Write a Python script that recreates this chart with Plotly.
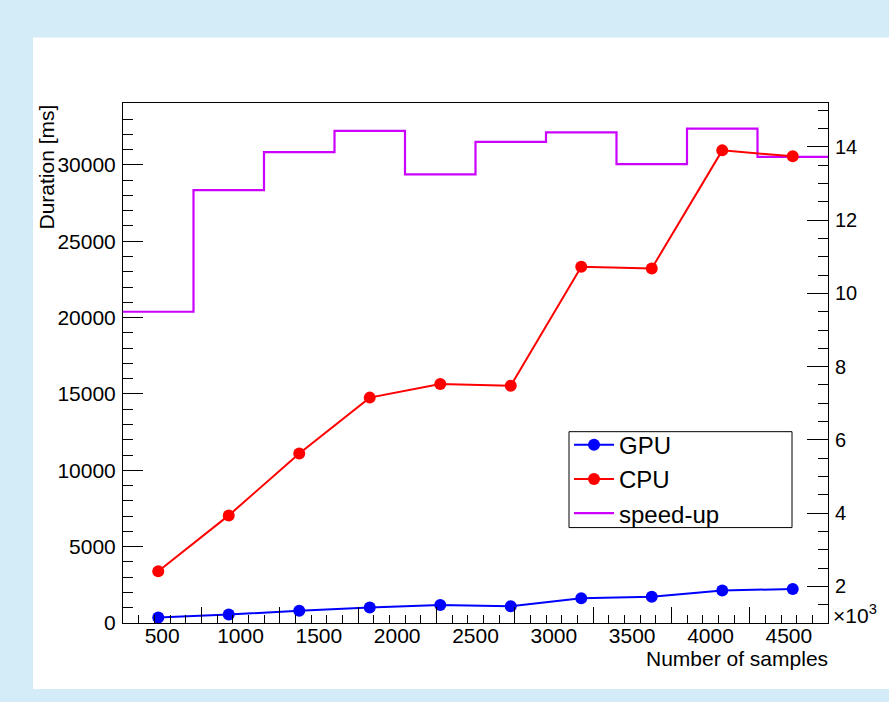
import plotly.graph_objects as go

# ---- data ----
samples = [475, 925, 1375, 1825, 2275, 2725, 3175, 3625, 4075, 4525]
gpu_ms = [356, 550, 801, 1022, 1181, 1099, 1619, 1716, 2134, 2225]
cpu_ms = [3386, 7046, 11098, 14758, 15654, 15542, 23320, 23216, 30948, 30556]
bin_edges = [250, 700, 1150, 1600, 2050, 2500, 2950, 3400, 3850, 4300, 4750]
speedup = [9.50, 12.82, 13.86, 14.44, 13.25, 14.14, 14.40, 13.53, 14.50, 13.73]
x_tick_labels = [500, 1000, 1500, 2000, 2500, 3000, 3500, 4000, 4500]

FONT = "Liberation Sans, Arial, Helvetica, sans-serif"
BLUE_BG = "rgb(212,236,248)"

fig = go.Figure()

fig.add_trace(go.Scatter(
    x=samples, y=gpu_ms, name="GPU", mode="lines+markers",
    line=dict(color="#0000FF", width=2), marker=dict(color="#0000FF", size=12),
    xaxis="x2", yaxis="y2"))
fig.add_trace(go.Scatter(
    x=samples, y=cpu_ms, name="CPU", mode="lines+markers",
    line=dict(color="#FF0000", width=2), marker=dict(color="#FF0000", size=12),
    xaxis="x2", yaxis="y2"))
fig.add_trace(go.Scatter(
    x=bin_edges, y=speedup + [speedup[-1]], name="speed-up", mode="lines",
    line=dict(color="#CC00FF", width=2.2, shape="hv"),
    xaxis="x", yaxis="y"))

L, R, T, B = 123, 61, 103, 78.5
W, H = 889, 702
pw = W - L - R
ph = H - T - B

def px(xp):
    return (xp - L) / pw

def py(yp):
    return (H - B - yp) / ph

xr = [250, 4750]

fig.update_layout(
    width=W, height=H,
    margin=dict(l=L, r=R, t=T, b=B, pad=0),
    paper_bgcolor=BLUE_BG, plot_bgcolor="white",
    font=dict(family=FONT, color="black", size=21),
    showlegend=True,
    legend=dict(
        x=px(569), y=py(423), xanchor="left", yanchor="top",
        bgcolor="rgba(0,0,0,0)", borderwidth=0,
        font=dict(size=24, family=FONT),
        tracegroupgap=0, itemwidth=40),
    xaxis=dict(
        range=xr, tickmode="array", tickvals=x_tick_labels,
        ticktext=[str(v) for v in x_tick_labels],
        ticks="", showgrid=False, zeroline=False,
        showline=True, mirror=True, linecolor="black", linewidth=1,
        tickfont=dict(size=21), ticklabelstandoff=-6),
    xaxis2=dict(
        range=xr, overlaying="x", side="bottom", anchor="y2",
        tickmode="linear", tick0=750, dtick=500,
        ticks="inside", ticklen=16, tickwidth=1, tickcolor="black",
        minor=dict(tick0=250, dtick=100, ticks="inside", ticklen=8,
                   tickwidth=1, tickcolor="black"),
        showticklabels=False, showgrid=False, zeroline=False, showline=False),
    yaxis=dict(
        range=[1.0, 15.2], side="right", anchor="x",
        tickmode="linear", tick0=0, dtick=2,
        ticks="inside", ticklen=21, tickwidth=1, tickcolor="black",
        minor=dict(dtick=0.5, ticks="inside", ticklen=10, tickwidth=1,
                   tickcolor="black"),
        showgrid=False, zeroline=False, showline=True, linecolor="black",
        linewidth=1, tickfont=dict(size=20), ticklabelstandoff=2),
    yaxis2=dict(
        range=[0, 34050], overlaying="y", side="left", anchor="x2",
        tickmode="linear", tick0=0, dtick=5000, tickformat="d",
        ticks="inside", ticklen=20, tickwidth=1, tickcolor="black",
        minor=dict(dtick=1000, ticks="inside", ticklen=10, tickwidth=1,
                   tickcolor="black"),
        showgrid=False, zeroline=False, showline=True, linecolor="black",
        linewidth=1, tickfont=dict(size=21), ticklabelstandoff=2),
    shapes=[
        dict(type="rect", xref="paper", yref="paper",
             x0=px(33), x1=px(889), y0=py(689.5), y1=py(37.5),
             fillcolor="white", line=dict(width=0), layer="below"),
        dict(type="rect", xref="paper", yref="paper",
             x0=px(569), x1=px(792), y0=py(528), y1=py(432),
             fillcolor="white", line=dict(width=1, color="black"),
             layer="above"),
    ],
    annotations=[
        dict(text="Duration [ms]", xref="paper", yref="paper",
             x=px(46), y=1.0, xanchor="center", yanchor="top",
             textangle=-90, showarrow=False, font=dict(size=21)),
        dict(text="Number of samples", xref="paper", yref="paper",
             x=px(830), y=py(659), xanchor="right", yanchor="middle",
             showarrow=False, font=dict(size=21)),
        dict(text="×10<sup>3</sup>", xref="paper", yref="paper",
             x=px(831), y=py(614), xanchor="left", yanchor="middle",
             showarrow=False, font=dict(size=21)),
    ],
)

fig.write_html("out.html")
